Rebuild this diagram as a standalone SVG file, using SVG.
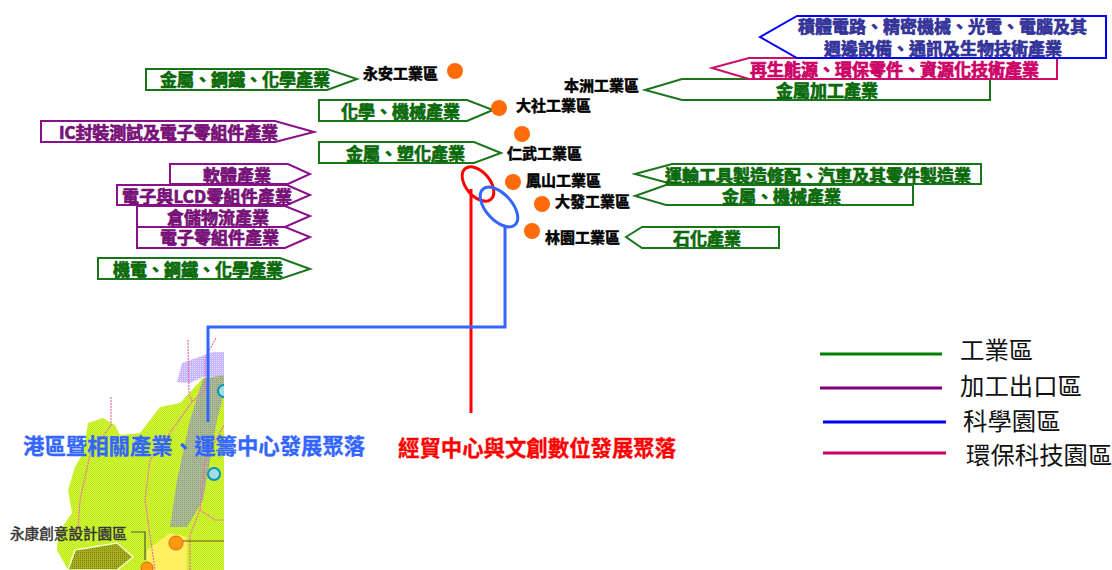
<svg xmlns="http://www.w3.org/2000/svg" width="1112" height="570" viewBox="0 0 1112 570">
<style>
text{font-family:"Noto Sans CJK TC","Noto Sans CJK SC",sans-serif}
.a{fill:#fff;stroke-width:2}
.l{font-size:17px;font-weight:700;stroke-width:.7px}
.g{stroke:#1a751a}.gt{fill:#0a6a0a;stroke:#0a6a0a}
.p{stroke:#8a0f8a}.pt{fill:#771177;stroke:#771177}
.b{stroke:#0000ff}.bt{fill:#333399;stroke:#333399}
.m{stroke:#cc0f66}.mt{fill:#cc0066;stroke:#cc0066}
.n{font-size:15px;font-weight:700;fill:#000;stroke:#000;stroke-width:.5px}
.d{fill:#ff6a0a}
.big{font-size:21.4px;font-weight:700;stroke-width:.3px}
.lg{font-size:24.4px;fill:#111}
.ll{stroke-width:3;fill:none}
.pink{fill:none;stroke:#f06ab0;stroke-width:1.2;stroke-dasharray:2 1}
</style>
<defs>
<pattern id="land" width="2" height="2" patternUnits="userSpaceOnUse"><rect width="2" height="2" fill="#e0f810"/><rect width="1" height="1" fill="#a8e848"/><rect x="1" y="1" width="1" height="1" fill="#b8e840"/></pattern>
<pattern id="grey" width="2" height="2" patternUnits="userSpaceOnUse"><rect width="2" height="2" fill="#b0b898"/><rect width="1" height="1" fill="#80a878"/></pattern>
<pattern id="lav" width="2" height="2" patternUnits="userSpaceOnUse"><rect width="2" height="2" fill="#c4b4ff"/><rect width="1" height="1" fill="#ece4ff"/></pattern>
<pattern id="oli" width="2" height="2" patternUnits="userSpaceOnUse"><rect width="2" height="2" fill="#a8b020"/><rect width="1" height="1" fill="#788010"/></pattern>
<clipPath id="mapclip"><rect x="0" y="330" width="224" height="240"/></clipPath>
</defs>

<g id="map" clip-path="url(#mapclip)">
<polygon points="177,382 182,363 213,352 224,352 224,377 203,377 190,383" fill="url(#lav)"/>
<polygon points="203,378 224,377 224,570 68,570 57,550 58,533 72,513 68,490 75,467 83,453 88,423 103,418 115,425 120,435 140,433 160,407 180,403 192,390" fill="url(#land)"/>
<polygon points="203,379 224,375 224,393 217,420 203,500 187,527 170,527 177,480 190,420" fill="url(#grey)"/>
<polygon points="147,550 170,533 187,537 187,570 147,570" fill="#fff060"/>
<path d="M68,570 75,550 117,543 133,557 117,570Z" fill="url(#oli)" stroke="#f4ffc0" stroke-width="1.5"/>
<path class="pink" d="M216,338 205,358 205,390 192,402 172,430 150,460 145,500 150,535 155,570"/>
<path class="pink" d="M111,397 111,425 90,455 80,500 78,530"/>
<path class="pink" d="M188,340 189,395 193,402 M224,425 205,460 200,510 190,535 190,570 M200,510 215,520 224,520"/>
<line x1="176" y1="541" x2="224" y2="541" stroke="#7a4a20" stroke-width="1.2"/>
<path d="M131,532H145V560" fill="none" stroke="#554" stroke-width="1.2"/>
<circle cx="176" cy="543" r="7" fill="#ff9a10" stroke="#e06010"/>
<circle cx="147" cy="568" r="6" fill="#ff9a10" stroke="#e06010"/>
<circle cx="214" cy="474" r="6" fill="#9ee0e0" stroke="#1090c0" stroke-width="2"/>
<circle cx="224" cy="391" r="6" fill="#9ee0e0" stroke="#1090c0" stroke-width="2"/>
</g>
<text id="map-label" x="10" y="539" font-size="14.6" fill="#222" stroke="#444" stroke-width=".5">永康創意設計園區</text>

<g id="connectors">
<ellipse cx="478" cy="184" rx="20" ry="12" transform="rotate(50 478 184)" fill="none" stroke="#ff0000" stroke-width="3"/>
<path d="M471,189V413" fill="none" stroke="#ff0000" stroke-width="3"/>
<ellipse cx="499" cy="207" rx="24" ry="13" transform="rotate(48 499 207)" fill="none" stroke="#3366ff" stroke-width="3"/>
<path d="M505,226V327H208V422" fill="none" stroke="#3366ff" stroke-width="3"/>
</g>

<g id="ind-1"><polygon class="a g" points="146,69 327,69 357,79 327,90 146,90"/><text class="l gt" x="160" y="86">金屬、鋼鐵、化學產業</text></g>
<g id="ind-2"><polygon class="a g" points="319,100 467,100 493,110 467,121 319,121"/><text class="l gt" x="341" y="118">化學、機械產業</text></g>
<g id="ind-3"><polygon class="a p" points="41,121 275,121 314,132 275,142 41,142"/><text class="l pt" x="59" y="139" textLength="219">IC封裝測試及電子零組件產業</text></g>
<g id="ind-4"><polygon class="a g" points="319,142 474,142 501,153 474,163 319,163"/><text class="l gt" x="346" y="160">金屬、塑化產業</text></g>
<g id="ind-5"><polygon class="a p" points="170,164 288,164 310,174 288,184 170,184"/><text class="l pt" x="203" y="182">軟體產業</text></g>
<g id="ind-7"><polygon class="a p" points="137,206 285,206 310,216 285,227 137,227"/><text class="l pt" x="167" y="224">倉儲物流產業</text></g>
<g id="ind-6"><polygon class="a p" points="117,185 287,185 310,195 287,205 117,205"/><text class="l pt" x="122" y="203" textLength="170">電子與LCD零組件產業</text></g>
<g id="ind-8"><polygon class="a p" points="137,227 285,227 310,237 285,248 137,248"/><text class="l pt" x="160" y="244">電子零組件產業</text></g>
<g id="ind-9"><polygon class="a g" points="98,258 280,258 310,269 280,279 98,279"/><text class="l gt" x="113" y="276">機電、鋼鐵、化學產業</text></g>

<g id="ind-12"><polygon class="a g" points="645,90 682,79 990,79 990,100 682,100"/><text class="l gt" x="776" y="97">金屬加工產業</text></g>
<g id="ind-11"><polygon class="a m" points="712,68 749,58 1057,58 1057,79 749,79"/><text class="l mt" x="750" y="76">再生能源、環保零件、資源化技術產業</text></g>
<g id="ind-10"><polygon class="a b" points="760,37 797,16 1106,16 1106,58 797,58"/><text class="l bt" x="798" y="33">積體電路、精密機械、光電、電腦及其</text><text class="l bt" x="824" y="55">週邊設備、通訊及生物技術產業</text></g>
<g id="ind-13"><polygon class="a g" points="635,174 672,164 981,164 981,184 672,184"/><text class="l gt" x="665" y="182">運輸工具製造修配、汽車及其零件製造業</text></g>
<g id="ind-14"><polygon class="a g" points="635,196 666,185 913,185 913,205 666,205"/><text class="l gt" x="722" y="203">金屬、機械產業</text></g>
<g id="ind-15"><polygon class="a g" points="626,237 642,227 779,227 779,248 642,248"/><text class="l gt" x="673" y="245">石化產業</text></g>

<g id="park-yongan"><circle class="d" cx="455" cy="71" r="8"/><text class="n" x="363" y="79">永安工業區</text></g>
<g id="park-dashe"><circle class="d" cx="499" cy="108" r="8"/><text class="n" x="516" y="111">大社工業區</text></g>
<g id="park-benzhou"><text class="n" x="564" y="91">本洲工業區</text></g>
<g id="park-renwu"><circle class="d" cx="522" cy="134" r="8"/><text class="n" x="507" y="159">仁武工業區</text></g>
<g id="park-fengshan"><circle class="d" cx="513" cy="182" r="8"/><text class="n" x="526" y="186">鳳山工業區</text></g>
<g id="park-dafa"><circle class="d" cx="542" cy="204" r="8"/><text class="n" x="555" y="207">大發工業區</text></g>
<g id="park-linyuan"><circle class="d" cx="532" cy="231" r="8"/><text class="n" x="545" y="243">林園工業區</text></g>

<text id="label-port" class="big" x="23" y="454" fill="#3366ff" stroke="#3366ff">港區暨相關產業、運籌中心發展聚落</text>
<text id="label-trade" class="big" x="398" y="456" fill="#ff0000" stroke="#ff0000">經貿中心與文創數位發展聚落</text>

<g id="legend">
<line class="ll" x1="820" y1="354" x2="942" y2="354" stroke="#008000"/>
<line class="ll" x1="820" y1="388" x2="942" y2="388" stroke="#800080"/>
<line class="ll" x1="823" y1="422" x2="946" y2="422" stroke="#0000ff"/>
<line class="ll" x1="823" y1="453" x2="946" y2="453" stroke="#cc0066"/>
<text class="lg" x="960" y="359">工業區</text>
<text class="lg" x="960" y="395">加工出口區</text>
<text class="lg" x="963" y="430">科學園區</text>
<text class="lg" x="966" y="464">環保科技園區</text>
</g>
</svg>
